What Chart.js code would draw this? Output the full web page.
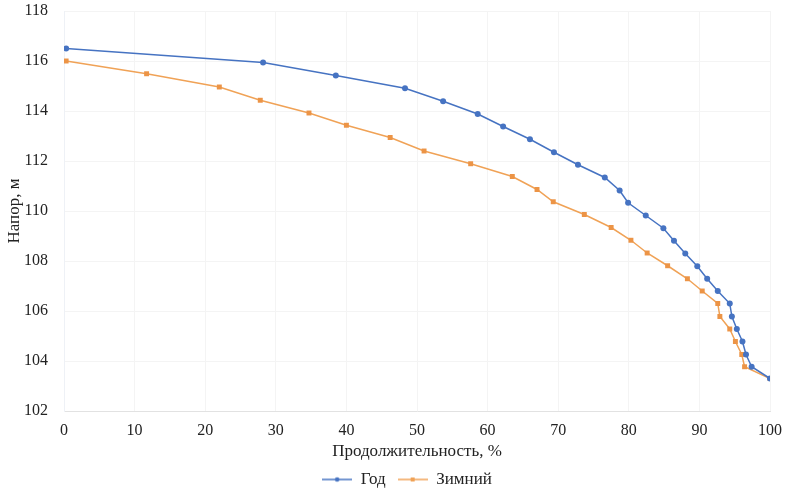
<!DOCTYPE html>
<html>
<head>
<meta charset="utf-8">
<script src="https://cdn.jsdelivr.net/npm/chart.js@4/dist/chart.umd.min.js"></script>
<style>
  html, body { margin: 0; padding: 0; background: #fff; }
  #wrap { width: 798px; height: 496px; }
</style>
</head>
<body>
<div id="wrap"><canvas id="chart" width="798" height="496"></canvas></div>
<script>
// Data
const yearX = [0.3, 28.2, 38.5, 48.3, 53.7, 58.6, 62.2, 66.0, 69.4, 72.8, 76.6, 78.7, 79.9, 82.4, 84.9, 86.4, 88.0, 89.7, 91.1, 92.6, 94.3, 94.6, 95.3, 96.1, 96.6, 97.4, 100];
const yearY = [116.5, 115.94, 115.42, 114.91, 114.39, 113.88, 113.38, 112.87, 112.35, 111.85, 111.34, 110.82, 110.33, 109.82, 109.31, 108.81, 108.3, 107.79, 107.29, 106.8, 106.3, 105.78, 105.28, 104.78, 104.26, 103.77, 103.3];
const winterX = [0.3, 11.7, 22.0, 27.8, 34.7, 40.0, 46.2, 51.0, 57.6, 63.5, 67.0, 69.3, 73.7, 77.5, 80.3, 82.6, 85.5, 88.3, 90.4, 92.6, 92.9, 94.3, 95.1, 96.0, 96.4, 100];
const winterY = [116.0, 115.49, 114.96, 114.43, 113.92, 113.43, 112.94, 112.4, 111.89, 111.38, 110.86, 110.37, 109.86, 109.34, 108.83, 108.32, 107.81, 107.29, 106.8, 106.3, 105.78, 105.28, 104.78, 104.26, 103.77, 103.3];
const seriesNames = ["Год", "Зимний"];
const xTicks = [0, 10, 20, 30, 40, 50, 60, 70, 80, 90, 100];
const yTicks = [102, 104, 106, 108, 110, 112, 114, 116, 118];

const blue = "#4673c2";
const orange = "#f0a256";
const orangeMark = "#ec9446";
const serif = "'Liberation Serif', 'DejaVu Serif', serif";

function toPoints(xs, ys) {
    return xs.map((x, i) => ({ x: x, y: ys[i] }));
}

// small legend icon: line with marker in the middle
function legendIcon(color, square) {
    const c = document.createElement("canvas");
    c.width = 30; c.height = 10;
    const g = c.getContext("2d");
    g.strokeStyle = color;
    g.lineWidth = 1.5;
    g.beginPath(); g.moveTo(0, 5); g.lineTo(30, 5); g.stroke();
    g.fillStyle = color;
    if (square) {
        g.fillRect(13, 3, 4, 4);
    } else {
        g.beginPath(); g.arc(15, 5, 2.3, 0, Math.PI * 2); g.fill();
    }
    return c;
}

// nudge the legend a bit right/down like in the original
const legendNudge = {
    id: "legendNudge",
    afterLayout(chart) {
        const l = chart.legend;
        if (!l) return;
        l.left += 22; l.right += 22;
        l.top += 2; l.bottom += 2;
    }
};

new Chart(document.getElementById("chart"), {
    type: "line",
    data: {
        datasets: [
            {
                label: seriesNames[0],
                data: toPoints(yearX, yearY),
                borderColor: blue,
                backgroundColor: blue,
                borderWidth: 1.5,
                pointRadius: 3,
                pointStyle: "circle",
                pointBorderWidth: 0
            },
            {
                label: seriesNames[1],
                data: toPoints(winterX, winterY),
                borderColor: orange,
                backgroundColor: orangeMark,
                borderWidth: 1.5,
                pointRadius: 3.5,
                pointStyle: "rect",
                pointBorderWidth: 0
            }
        ]
    },
    plugins: [legendNudge],
    options: {
        responsive: false,
        animation: false,
        layout: { padding: { top: 0, right: 28, left: 0, bottom: 0 } },
        plugins: {
            tooltip: { enabled: false },
            legend: {
                position: "bottom",
                labels: {
                    color: "#222",
                    font: { family: serif, size: 17 },
                    padding: 12,
                    usePointStyle: true,
                    pointStyleWidth: 30,
                    generateLabels: (chart) => chart.data.datasets.map((d, i) => ({
                        text: d.label,
                        pointStyle: legendIcon(d.borderColor, i === 1),
                        fillStyle: d.borderColor,
                        strokeStyle: d.borderColor,
                        lineWidth: 0,
                        datasetIndex: i,
                        fontColor: "#222"
                    }))
                }
            }
        },
        scales: {
            x: {
                type: "linear",
                min: 0,
                max: 100,
                afterBuildTicks: (s) => { s.ticks = xTicks.map(v => ({ value: v })); },
                ticks: { color: "#222", font: { family: serif, size: 16, lineHeight: 1 }, padding: 12, maxRotation: 0 },
                grid: { color: "#f4f4f4", drawTicks: false },
                border: { color: "#e2e2e2" },
                title: {
                    display: true,
                    text: "Продолжительность, %",
                    color: "#222",
                    font: { family: serif, size: 17, lineHeight: 1 },
                    padding: { top: 0, bottom: -3 }
                },
                afterFit: (s) => { s.height = 46; }
            },
            y: {
                min: 102,
                max: 118,
                afterBuildTicks: (s) => { s.ticks = yTicks.map(v => ({ value: v })); },
                ticks: { color: "#222", font: { family: serif, size: 16 }, padding: 16 },
                grid: { color: "#f4f4f4", drawTicks: false },
                border: { color: "#eef1f6" },
                title: {
                    display: true,
                    text: "Напор, м",
                    color: "#222",
                    font: { family: serif, size: 17 },
                    padding: { top: 4, bottom: 0 }
                },
                afterFit: (s) => {
                    s.width = 64;
                    s.paddingTop = 11;
                    s.paddingBottom = 10;
                }
            }
        }
    }
});
</script>
</body>
</html>
